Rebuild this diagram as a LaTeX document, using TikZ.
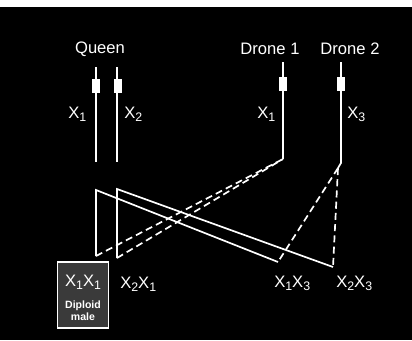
\documentclass[tikz,border=0pt]{standalone}
\usepackage{fontspec}
\setmainfont{Liberation Sans}
\usetikzlibrary{positioning, calc}
\definecolor{slidebg}{RGB}{0, 0, 0}
\definecolor{chromo}{RGB}{255, 255, 255}
\definecolor{malegrey}{RGB}{58, 58, 58}
\newcommand{\xsub}[1]{X\raisebox{-2.6pt}{\fontsize{8.8}{9}\selectfont #1}}
\tikzset{
  chrom/.style={draw=chromo, line width=1.2pt},
  gamete/.style={draw=chromo, line width=1.2pt, dash pattern=on 5pt off 3pt},
  locus/.style={rectangle, fill=chromo, minimum width=2.2mm, minimum height=3.3mm, inner sep=0pt},
  lbl/.style={text=chromo, font=\fontsize{11.8}{13}\selectfont, inner sep=0pt, anchor=base},
  smalllbl/.style={text=chromo, font=\fontsize{7.5}{8}\selectfont\bfseries, inner sep=0pt, anchor=base},
  malebox/.style={rectangle, draw=chromo, line width=1.2pt, fill=malegrey,
                  minimum width=12.8mm, minimum height=16.4mm, inner sep=0pt},
}
\begin{document}
\begin{tikzpicture}[x=0.25mm, y=-0.25mm]
  \useasboundingbox (0,0) rectangle (412,340);
  \fill[white] (0,0) rectangle (412,7);
  \fill[slidebg] (0,7) rectangle (412,340);

  % Queen
  \node[lbl] (queen) at (100,53) {Queen};
  \coordinate (q1top) at (96,67);  \coordinate (q1bot) at (96,162);
  \coordinate (q2top) at (117,67); \coordinate (q2bot) at (117,162);
  \draw[chrom] (q1top) -- (q1bot);
  \draw[chrom] (q2top) -- (q2bot);
  \node[locus] (q1loc) at (96,86) {};
  \node[locus] (q2loc) at (118,86) {};
  \node[lbl, anchor=base west] (qx1) at (68,118) {\xsub{1}};
  \node[lbl, anchor=base west] (qx2) at (124,118) {\xsub{2}};

  % Drones
  \node[lbl] (drone1) at (270,54) {Drone 1};
  \node[lbl] (drone2) at (350,54) {Drone 2};
  \coordinate (d1top) at (283,62); \coordinate (d1bot) at (283,159);
  \coordinate (d2top) at (341,62); \coordinate (d2bend) at (341,163);
  \coordinate (d2bot) at (338,168);
  \draw[chrom] (d1top) -- (d1bot);
  \draw[chrom] (d2top) -- (d2bend) -- (d2bot);
  \node[locus] (d1loc) at (283,84) {};
  \node[locus] (d2loc) at (341,84) {};
  \node[lbl, anchor=base west] (dx1) at (257,118) {\xsub{1}};
  \node[lbl, anchor=base west] (dx3) at (347,118) {\xsub{3}};

  % Offspring
  \coordinate (o1top) at (96,190);  \coordinate (o1bot) at (96,256);
  \coordinate (o2top) at (117,189); \coordinate (o2bot) at (117,258);
  \coordinate (o3end) at (278,262); \coordinate (o4end) at (333,267);
  \draw[chrom] (o1bot) -- (o1top) -- (o3end);
  \draw[chrom] (o2bot) -- (o2top) -- (o4end);
  \draw[gamete] (o1bot) -- (d1bot);
  \draw[gamete] (o2bot) -- (d1bot);
  \draw[gamete] (d2bot) -- (o3end);
  \draw[gamete] (d2bot) -- (o4end);

  % Genotypes
  \node[malebox] (male) at (83,295) {};
  \node[lbl] (x1x1) at (83,286) {\xsub{1}\xsub{1}};
  \node[smalllbl] (diploid) at (83,308) {Diploid};
  \node[smalllbl] (maletxt) at (83,320) {male};
  \node[lbl, anchor=base west] (x2x1) at (120,288) {\xsub{2}\xsub{1}};
  \node[lbl, anchor=base west] (x1x3) at (274,287) {\xsub{1}\xsub{3}};
  \node[lbl, anchor=base west] (x2x3) at (336,287) {\xsub{2}\xsub{3}};
\end{tikzpicture}
\end{document}
